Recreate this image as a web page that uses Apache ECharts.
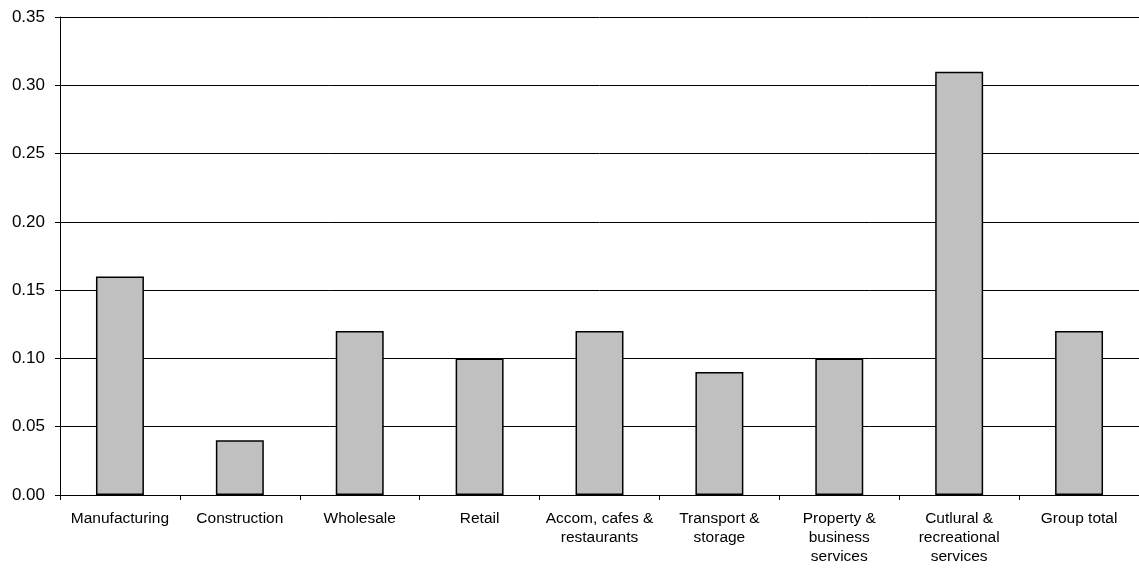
<!DOCTYPE html>
<html><head><meta charset="utf-8">
<script src="https://cdn.jsdelivr.net/npm/echarts@6/dist/echarts.min.js"></script>
<style>html,body{margin:0;padding:0;background:#fff}#c{width:1139px;height:568px}</style>
</head><body><div id="c"></div>
<script>
var categories = ["Manufacturing", "Construction", "Wholesale", "Retail", "Accom, cafes &\nrestaurants", "Transport &\nstorage", "Property &\nbusiness\nservices", "Cutlural &\nrecreational\nservices", "Group total"];
var values = [0.16, 0.04, 0.12, 0.10, 0.12, 0.09, 0.10, 0.31, 0.12];
var chart = echarts.init(document.getElementById('c'), null, {renderer: 'canvas'});
chart.setOption({
  animation: false,
  backgroundColor: '#ffffff',
  grid: {left: 60, right: 0, top: 17, bottom: 73, containLabel: false},
  xAxis: {
    type: 'category', data: categories,
    axisLine: {lineStyle: {color: '#000', width: 1}},
    axisTick: {show: true, length: 5, lineStyle: {color: '#000'}, alignWithLabel: false},
    axisLabel: {color: '#000', fontFamily: 'Liberation Sans, Arial', fontSize: 15.5, lineHeight: 19, margin: 14, interval: 0}
  },
  yAxis: {
    type: 'value', min: 0, max: 0.35, interval: 0.05,
    axisLine: {show: true, lineStyle: {color: '#000', width: 1}},
    axisTick: {show: true, length: 5, lineStyle: {color: '#000'}},
    splitLine: {show: true, lineStyle: {color: '#000', width: 1}},
    axisLabel: {color: '#000', fontFamily: 'Liberation Sans, Arial', fontSize: 17, margin: 15, formatter: function(v){return v.toFixed(2);}}
  },
  series: [{
    type: 'bar', data: values, barWidth: '40%',
    itemStyle: {color: '#c0c0c0', borderColor: '#000', borderWidth: 1.5}
  }]
});
</script></body></html>
